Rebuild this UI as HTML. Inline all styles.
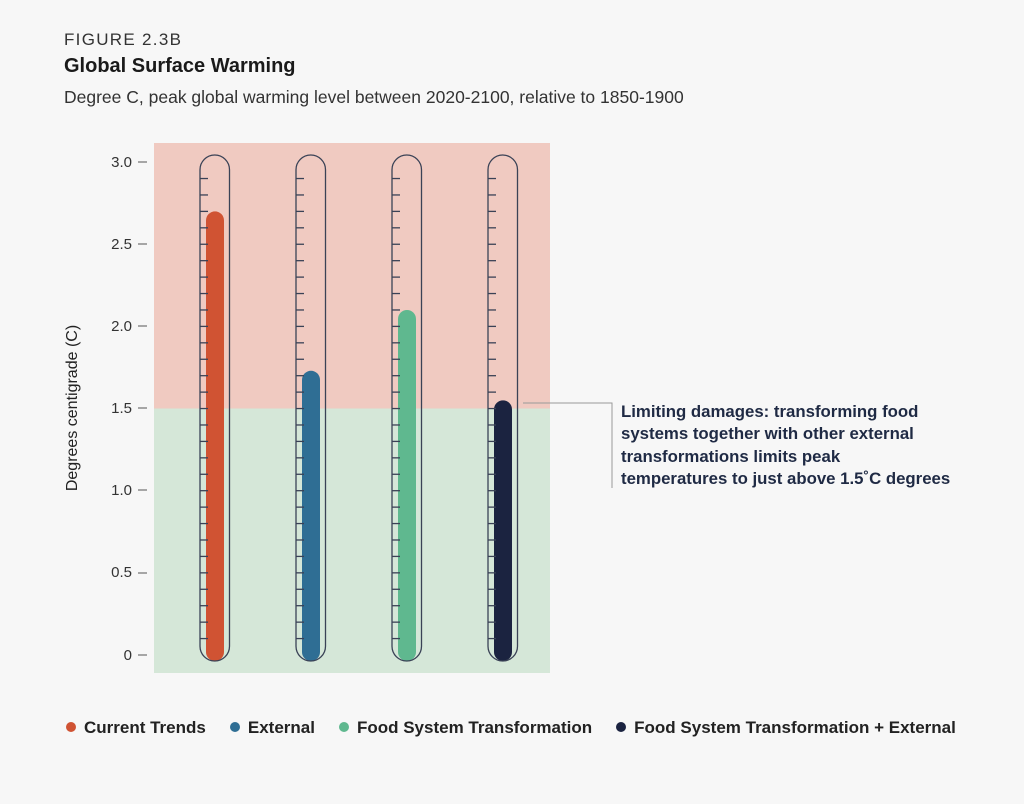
<!DOCTYPE html><html><head><style>
body{margin:0;background:#f7f7f7;font-family:"Liberation Sans",sans-serif;width:1024px;height:804px;overflow:hidden;position:relative}
.t{position:absolute;white-space:nowrap}
.d{display:inline-block;width:10px;height:10px;border-radius:50%;margin-right:8px;vertical-align:1px}
</style></head><body>
<div class="t" style="left:64px;top:30px;font-size:17px;letter-spacing:1.3px;color:#333">FIGURE 2.3B</div>
<div class="t" style="left:64px;top:55px;font-size:20px;font-weight:bold;color:#1a1a1a">Global Surface Warming</div>
<div class="t" style="left:64px;top:87px;font-size:17.5px;color:#333">Degree C, peak global warming level between 2020-2100, relative to 1850-1900</div>
<svg width="1024" height="804" style="position:absolute;left:0;top:0">
<rect x="154" y="143" width="396" height="265.5" fill="#f0cac1"/>
<rect x="154" y="408.5" width="396" height="264.5" fill="#d5e7d8"/>
<g font-size="15" fill="#333" text-anchor="end" font-family="Liberation Sans">
<text x="132" y="167">3.0</text><text x="132" y="249">2.5</text><text x="132" y="331">2.0</text><text x="132" y="413">1.5</text><text x="132" y="495">1.0</text><text x="132" y="577">0.5</text><text x="132" y="660">0</text>
</g>
<g stroke="#555" stroke-width="1">
<line x1="138" x2="147" y1="162" y2="162"/><line x1="138" x2="147" y1="244" y2="244"/><line x1="138" x2="147" y1="326" y2="326"/><line x1="138" x2="147" y1="408" y2="408"/><line x1="138" x2="147" y1="490" y2="490"/><line x1="138" x2="147" y1="573" y2="573"/><line x1="138" x2="147" y1="655" y2="655"/>
</g>
<text transform="translate(77,408) rotate(-90)" text-anchor="middle" font-size="16" fill="#222" font-family="Liberation Sans">Degrees centigrade (C)</text>
<g id="th"></g>
<polyline points="523,403 612,403 612,488" fill="none" stroke="#999" stroke-width="1"/>
</svg>
<div class="t" style="left:621px;top:401px;font-size:16.8px;font-weight:bold;color:#1f2a44;line-height:22.3px">Limiting damages: transforming food<br>systems together with other external<br>transformations limits peak<br>temperatures to just above 1.5˚C degrees</div>
<div class="t" style="left:66px;top:718px;font-size:17px;font-weight:bold;color:#222">
<span class="d" style="background:#d05333"></span>Current Trends<span style="display:inline-block;width:24px"></span><span class="d" style="background:#2f6e94"></span>External<span style="display:inline-block;width:24px"></span><span class="d" style="background:#5fb88f"></span>Food System Transformation<span style="display:inline-block;width:24px"></span><span class="d" style="background:#1b2340"></span>Food System Transformation + External</div>
<script>
var g=document.getElementById('th'),s='';
var d=[[200,2.7,'#d05333'],[296,1.73,'#2f6e94'],[392,2.1,'#5fb88f'],[488,1.55,'#1b2340']];
d.forEach(function(a){var x=a[0];
var top=655-a[1]*164.3;
s+='<rect x="'+(x+6)+'" y="'+top+'" width="18" height="'+(655-top+6)+'" rx="9" fill="'+a[2]+'"/>';
s+='<rect x="'+x+'" y="155" width="29.5" height="506" rx="14.75" fill="none" stroke="#3a4256" stroke-width="1.3"/>';
for(var i=1;i<=29;i++){var y=655-i*16.43;s+='<line x1="'+x+'" x2="'+(x+8)+'" y1="'+y+'" y2="'+y+'" stroke="#3a4256" stroke-width="1.3"/>';}
});
g.innerHTML=s;
</script>
</body></html>
